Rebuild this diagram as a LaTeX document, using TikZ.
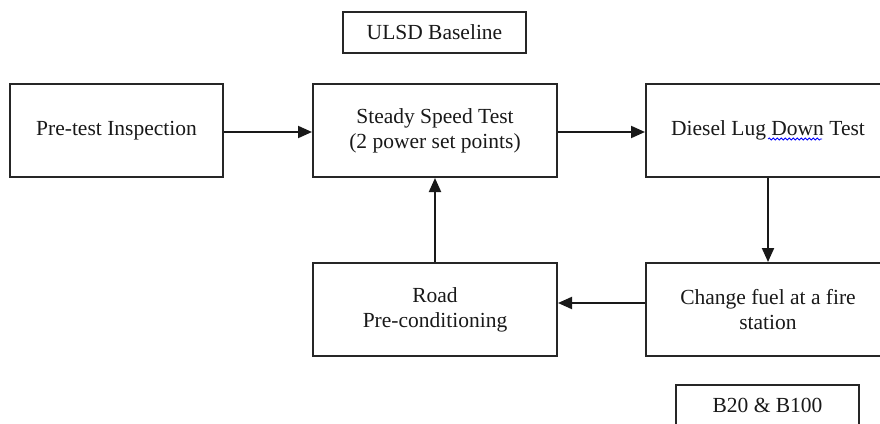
\documentclass[tikz,border=0pt]{standalone}
\usepackage{fontspec}
\setmainfont{Liberation Serif}
\usetikzlibrary{arrows.meta,decorations.pathmorphing}
\begin{document}
\begin{tikzpicture}[x=1pt,y=-1pt,
  box/.style={draw=black!85,line width=2pt,rectangle,inner sep=0pt,align=center,
    font=\fontsize{21.5}{25}\selectfont,text=black!90},
  conn/.style={draw=black!90,line width=2pt,-{Triangle[length=14pt,width=12pt]}}]
\clip (0,0) rectangle (880,423);
\fill[white] (0,0) rectangle (880,423);
\node[box,minimum width=183pt,minimum height=41pt] (ulsd) at (434.5,32.5) {ULSD Baseline};
\node[box,minimum width=213pt,minimum height=93pt] (pre) at (116.5,130.5) {Pre-test Inspection};
\node[box,minimum width=244pt,minimum height=93pt] (steady) at (435,130.5) {Steady Speed Test\\(2 power set points)};
\node[box,minimum width=244pt,minimum height=93pt] (diesel) at (768,130.5) {Diesel Lug Down Test};
\node[box,minimum width=244pt,minimum height=93pt] (road) at (435,309.5) {Road\\Pre-conditioning};
\node[box,minimum width=244pt,minimum height=93pt] (change) at (768,309.5) {Change fuel at a fire\\station};
\node[box,minimum width=183pt,minimum height=41pt] (b20) at (767.5,405.5) {B20 \& B100};
\draw[conn] (pre.east |- 0,132) -- (steady.west |- 0,132);
\draw[conn] (steady.east |- 0,132) -- (diesel.west |- 0,132);
\draw[conn] (diesel.south) -- (change.north);
\draw[conn] (change.west |- 0,303) -- (road.east |- 0,303);
\draw[conn] (road.north) -- (steady.south);
\draw[blue,line width=0.8pt,decorate,decoration={snake,amplitude=1pt,segment length=4pt}] (768,139) -- (822,139);
\end{tikzpicture}
\end{document}
